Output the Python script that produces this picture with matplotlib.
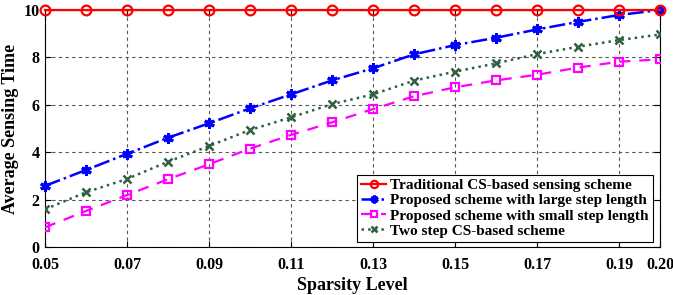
import numpy as np
import matplotlib
matplotlib.use("Agg")
import matplotlib.pyplot as plt

plt.rcParams['font.family'] = ['Liberation Serif', 'DejaVu Serif']
plt.rcParams['font.weight'] = 'bold'

# datos
sparsity = [0.05, 0.06, 0.07, 0.08, 0.09, 0.10, 0.11, 0.12,
            0.13, 0.14, 0.15, 0.16, 0.17, 0.18, 0.19, 0.20]
traditional = [10] * 16
large_step = [2.58, 3.25, 3.93, 4.61, 5.22, 5.85, 6.44, 7.03,
              7.54, 8.13, 8.52, 8.83, 9.18, 9.50, 9.79, 10.0]
small_step = [0.83, 1.52, 2.19, 2.86, 3.49, 4.15, 4.73, 5.26,
              5.82, 6.36, 6.74, 7.03, 7.27, 7.57, 7.82, 7.92]
two_step = [1.59, 2.31, 2.87, 3.60, 4.26, 4.94, 5.47, 6.03,
            6.44, 7.02, 7.40, 7.75, 8.14, 8.45, 8.73, 8.97]

xticks = [0.05, 0.07, 0.09, 0.11, 0.13, 0.15, 0.17, 0.19, 0.20]
xticklabels = ['0.05', '0.07', '0.09', '0.11', '0.13', '0.15', '0.17', '0.19', '0.20']
yticks = [0, 2, 4, 6, 8, 10]

fig = plt.figure(figsize=(6.73, 2.95), dpi=100)
ax = fig.add_axes([0.0669, 0.1627, 0.9138, 0.8033])

ax.grid(True, color='#555555', linestyle=(0, (3, 3)), linewidth=0.8)
ax.set_axisbelow(True)

ax.plot(sparsity, traditional, '-', color='red', lw=1.6, marker='o',
        ms=7, mfc='none', mew=1.6, label='Traditional CS-based sensing scheme', clip_on=False, zorder=5)
ax.plot(sparsity, large_step, '-.', color='blue', lw=1.8, marker=(6, 2, 0),
        ms=7.5, mew=2.2, label='Proposed scheme with large step length', clip_on=False, zorder=4)
ax.plot(sparsity, small_step, '--', color='magenta', lw=1.6, marker='s',
        ms=6, mfc='none', mew=1.6, label='Proposed scheme with small step length', dashes=(5, 4), zorder=4)
ax.plot(sparsity, two_step, ':', color='#2f6040', lw=1.8, marker='x',
        ms=5.5, mew=1.8, label='Two step CS-based scheme', zorder=4)

ax.set_xlim(0.05, 0.20)
ax.set_ylim(0, 10)
ax.set_xticks(xticks)
ax.set_xticklabels(xticklabels)
ax.set_yticks(yticks)
ax.tick_params(direction='in', labelsize=11.5, top=True, right=True, length=4)
ax.tick_params(axis='x', pad=7)
ax.tick_params(axis='y', pad=4)
for lab in ax.get_xticklabels() + ax.get_yticklabels():
    lab.set_fontweight('bold')

ax.set_xlabel('Sparsity Level', fontsize=13, fontweight='bold', labelpad=3)
ax.set_ylabel('Average Sensing Time', fontsize=13, fontweight='bold', labelpad=3)

leg = ax.legend(loc='lower right', bbox_to_anchor=(0.993, 0.01), fontsize=11,
                frameon=True, fancybox=False, edgecolor='black', framealpha=1,
                handlelength=1.6, handletextpad=0.3, borderpad=0.25, labelspacing=0.1,
                borderaxespad=0.2, markerscale=0.75)
leg.get_frame().set_linewidth(0.8)
for t in leg.get_texts():
    t.set_fontweight('bold')

fig.savefig('out.png', dpi=100)
